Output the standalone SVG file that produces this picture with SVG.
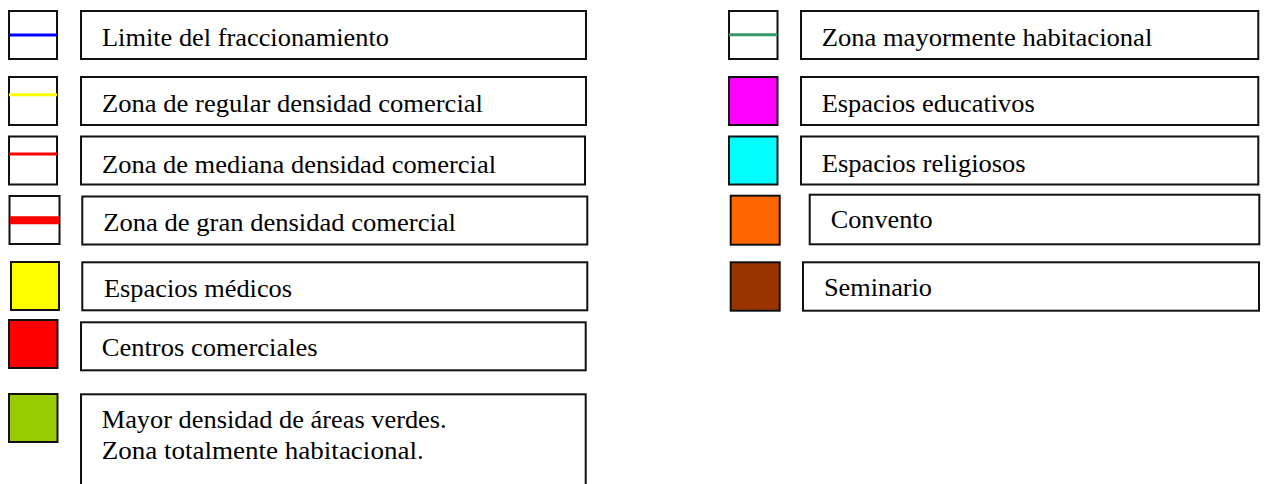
<svg xmlns="http://www.w3.org/2000/svg" width="1266" height="484" viewBox="0 0 1266 484">
<style>
.sw{stroke:#111;stroke-width:2}
.bx{fill:#fff;stroke:#111;stroke-width:2}
.t{font-family:"Liberation Serif","Times New Roman",serif;font-size:25px;fill:#000}
</style>
<rect width="1266" height="484" fill="#fff"/>
<g id="legend-limite">
<rect class="sw" x="9" y="11" width="48" height="48" fill="#fff"/>
<line x1="9" y1="35" x2="57" y2="35" stroke="#0000ff" stroke-width="3"/>
<rect class="bx" x="81" y="11" width="505" height="48"/>
<text class="t" x="102" y="46" textLength="287" lengthAdjust="spacingAndGlyphs">Limite del fraccionamiento</text>
</g>
<g id="legend-regular">
<rect class="sw" x="9" y="77" width="48" height="48" fill="#fff"/>
<line x1="9" y1="94.7" x2="57" y2="94.7" stroke="#ffff00" stroke-width="3"/>
<rect class="bx" x="81" y="77" width="505" height="48"/>
<text class="t" x="102" y="111.5" textLength="381" lengthAdjust="spacingAndGlyphs">Zona de regular densidad comercial</text>
</g>
<g id="legend-mediana">
<rect class="sw" x="9" y="136.5" width="48" height="48" fill="#fff"/>
<line x1="9" y1="154" x2="57" y2="154" stroke="#ff0000" stroke-width="3"/>
<rect class="bx" x="81" y="136.5" width="504" height="48"/>
<text class="t" x="102" y="172.5" textLength="394" lengthAdjust="spacingAndGlyphs">Zona de mediana densidad comercial</text>
</g>
<g id="legend-gran">
<rect class="sw" x="9.5" y="196" width="50" height="48" fill="#fff"/>
<line x1="10" y1="220.3" x2="59" y2="220.3" stroke="#ff0000" stroke-width="8"/>
<rect class="bx" x="82.3" y="196.5" width="505" height="48"/>
<text class="t" x="103.3" y="231" textLength="352.7" lengthAdjust="spacingAndGlyphs">Zona de gran densidad comercial</text>
</g>
<g id="legend-medicos">
<rect class="sw" x="11" y="262" width="48" height="48" fill="#ffff00"/>
<rect class="bx" x="82.3" y="262.3" width="505" height="48"/>
<text class="t" x="104" y="296.7" textLength="188" lengthAdjust="spacingAndGlyphs">Espacios médicos</text>
</g>
<g id="legend-centros">
<rect class="sw" x="9" y="320" width="48.5" height="48" fill="#ff0000"/>
<rect class="bx" x="81" y="322.3" width="504.7" height="48"/>
<text class="t" x="101.7" y="356" textLength="216" lengthAdjust="spacingAndGlyphs">Centros comerciales</text>
</g>
<g id="legend-verdes">
<rect class="sw" x="9" y="394" width="48.5" height="48" fill="#99cc00"/>
<rect class="bx" x="81" y="394.3" width="504.7" height="100"/>
<text class="t" x="101.7" y="428.3" textLength="345" lengthAdjust="spacingAndGlyphs">Mayor densidad de áreas verdes.</text>
<text class="t" x="101.7" y="459.3" textLength="322" lengthAdjust="spacingAndGlyphs">Zona totalmente habitacional.</text>
</g>
<g id="legend-habitacional">
<rect class="sw" x="729" y="11" width="48.5" height="48" fill="#fff"/>
<line x1="729" y1="34.7" x2="777.5" y2="34.7" stroke="#339966" stroke-width="3"/>
<rect class="bx" x="801" y="11" width="457.3" height="48"/>
<text class="t" x="821.7" y="45.5" textLength="330.6" lengthAdjust="spacingAndGlyphs">Zona mayormente habitacional</text>
</g>
<g id="legend-educativos">
<rect class="sw" x="729" y="77" width="48.5" height="48" fill="#ff00ff"/>
<rect class="bx" x="801" y="77" width="457.3" height="48"/>
<text class="t" x="821.7" y="111.5" textLength="213" lengthAdjust="spacingAndGlyphs">Espacios educativos</text>
</g>
<g id="legend-religiosos">
<rect class="sw" x="729" y="136.5" width="48.5" height="48" fill="#00ffff"/>
<rect class="bx" x="801" y="136.5" width="457.3" height="48"/>
<text class="t" x="821.7" y="171.7" textLength="204" lengthAdjust="spacingAndGlyphs">Espacios religiosos</text>
</g>
<g id="legend-convento">
<rect class="sw" x="730.7" y="195.7" width="49" height="49" fill="#ff6600"/>
<rect class="bx" x="809.7" y="194.7" width="449.6" height="49.6"/>
<text class="t" x="830.7" y="228.3" textLength="102" lengthAdjust="spacingAndGlyphs">Convento</text>
</g>
<g id="legend-seminario">
<rect class="sw" x="730.7" y="262.3" width="49" height="48.4" fill="#993300"/>
<rect class="bx" x="803" y="262.3" width="456" height="48.4"/>
<text class="t" x="824" y="296" textLength="108" lengthAdjust="spacingAndGlyphs">Seminario</text>
</g>
<g id="connectors"/>
</svg>
